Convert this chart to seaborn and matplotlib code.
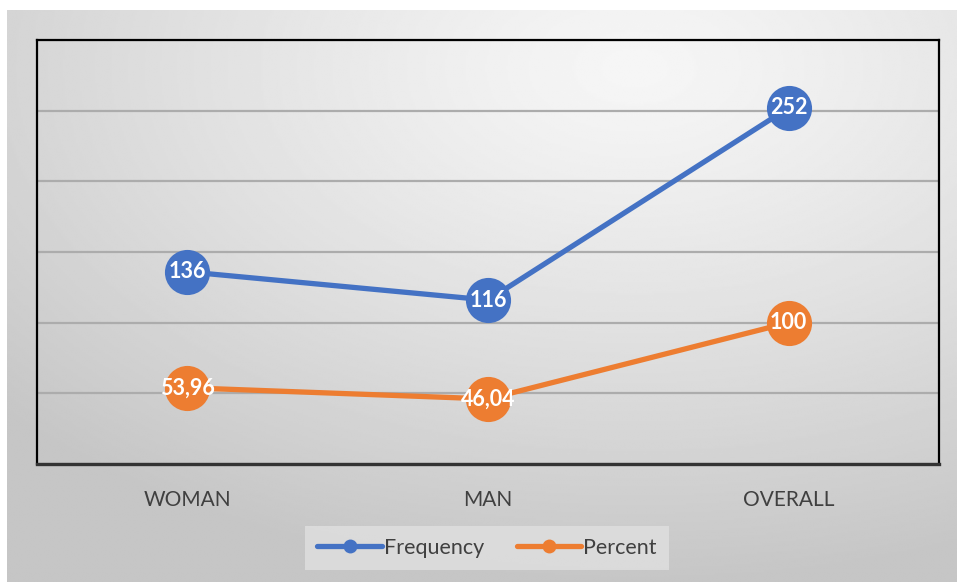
import numpy as np
import pandas as pd
import seaborn as sns
import matplotlib.pyplot as plt
from matplotlib.lines import Line2D

# Data
categories = ["WOMAN", "MAN", "OVERALL"]
frequency = [136, 116, 252]
percent = [53.96, 46.04, 100]
frequency_labels = ["136", "116", "252"]
percent_labels = ["53,96", "46,04", "100"]

BLUE = "#4472C4"
ORANGE = "#ED7D31"

sns.set_theme(style="white")
plt.rcParams["font.family"] = ["Lato", "DejaVu Sans"]

fig = plt.figure(figsize=(9.57, 5.82), dpi=100)
fig.patch.set_facecolor("white")

# Shaded chart panel behind everything
bg = fig.add_axes([7 / 957, 0, 950 / 957, 572 / 582])
h, w = 300, 500
yy, xx = np.mgrid[0:h, 0:w]
cx, cy = 0.66 * w, 0.10 * h
r = np.sqrt(((xx - cx) / w) ** 2 + ((yy - cy) / h) ** 2)
shade = 0.965 - 0.19 * np.clip(r / 0.9, 0, 1) ** 1.2
bg.imshow(shade, cmap="gray", vmin=0, vmax=1, aspect="auto",
          extent=[0, 1, 0, 1], origin="upper", interpolation="bilinear")
bg.set_axis_off()
bg.set_zorder(0)

# Main plotting area
ax = fig.add_axes([37 / 957, (582 - 464) / 582, 902 / 957, 424 / 582])
ax.set_zorder(1)
ax.patch.set_alpha(0)

df = pd.DataFrame({
    "category": categories * 2,
    "value": frequency + percent,
    "series": ["Frequency"] * 3 + ["Percent"] * 3,
})

sns.lineplot(data=df, x="category", y="value", hue="series",
             palette={"Frequency": BLUE, "Percent": ORANGE},
             marker="o", markersize=32.5, markeredgewidth=0,
             linewidth=3.8, sort=False, legend=False, ax=ax)

for i, (v, lab) in enumerate(zip(frequency, frequency_labels)):
    ax.text(i, v, lab, ha="center", va="center", color="white",
            fontsize=15.5, fontweight="bold", zorder=5)
for i, (v, lab) in enumerate(zip(percent, percent_labels)):
    ax.text(i, v, lab, ha="center", va="center", color="white",
            fontsize=15.5, fontweight="bold", zorder=5)

ax.set_xlim(-0.5, 2.5)
ax.set_ylim(0, 300)
ax.set_yticks(np.arange(0, 301, 50))
ax.set_yticklabels([])
ax.yaxis.grid(True, color="#acacac", linewidth=1.6)
ax.set_axisbelow(True)
ax.set_xlabel("")
ax.set_ylabel("")
ax.tick_params(axis="both", length=0)
ax.tick_params(axis="x", pad=19, labelsize=15, labelcolor="#404040")
for s in ax.spines.values():
    s.set_color("black")
    s.set_linewidth(1.6)
ax.spines["bottom"].set_color("#333333")
ax.spines["bottom"].set_linewidth(2.4)

handles = [
    Line2D([0], [0], color=BLUE, lw=3.8, marker="o", markersize=10, markeredgewidth=0),
    Line2D([0], [0], color=ORANGE, lw=3.8, marker="o", markersize=10, markeredgewidth=0),
]
leg = fig.legend(handles, ["Frequency", "Percent"], loc="center",
                 bbox_to_anchor=(487 / 957, 1 - 548 / 582), ncol=2,
                 frameon=True, fancybox=False, handlelength=3.0,
                 handletextpad=0.1, columnspacing=1.5, fontsize=15.5,
                 borderpad=0.55, borderaxespad=0, handleheight=0.7)
leg.get_frame().set_facecolor("#e0e0e0")
leg.get_frame().set_edgecolor("none")
for t in leg.get_texts():
    t.set_color("#404040")

fig.savefig("out.png", dpi=100)
